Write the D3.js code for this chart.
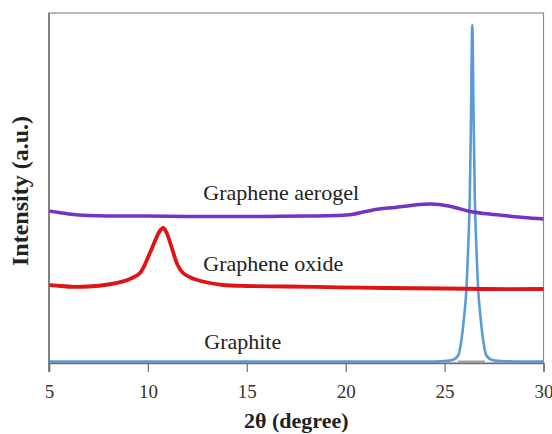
<!DOCTYPE html>
<html>
<head>
<meta charset="utf-8">
<script src="https://cdn.jsdelivr.net/npm/d3@7"></script>
<style>
  body { margin: 0; background: #fff; }
  svg { display: block; }
</style>
</head>
<body>
<div id="chart"></div>
<script>
const FONT = "Liberation Serif";

// 2θ ticks
const xTicks = [5, 10, 15, 20, 25, 30];

// graphene aerogel trace (2θ, intensity a.u.)
const aerogelX = [5, 5.5, 6, 6.5, 7, 8, 10, 12, 14, 16, 18, 19.5, 20.3, 21, 21.7, 22.5, 23.3, 24.3, 25.2, 25.8, 26.3, 27, 28, 29, 30];
const aerogelY = [152, 150.5, 149, 148, 147.5, 147, 147, 146.5, 146.5, 146.5, 147, 147.5, 148.5, 151.5, 154, 155.5, 157.5, 159, 157, 154, 151.5, 149.5, 147.5, 145.5, 144];

// graphene oxide trace
const oxideX = [5, 5.6, 6.2, 7, 8, 8.7, 9.2, 9.6, 10.1, 10.4, 10.6, 10.78, 10.95, 11.27, 11.5, 11.78, 12.1, 12.5, 13, 13.8, 15, 17, 19.7, 22, 25, 27, 30];
const oxideY = [78, 77, 76.2, 76.5, 78.5, 81.3, 85, 90, 110, 124, 132, 135, 130, 111.3, 98, 90, 86, 83, 80.5, 78, 77, 76.5, 75.7, 75, 74.5, 74, 74];

// graphite trace
const graphiteX = [5, 10, 15, 20, 24, 25, 25.4, 25.7, 25.85, 25.98, 26.1, 26.2, 26.27, 26.33, 26.4, 26.47, 26.53, 26.6, 26.7, 26.82, 26.95, 27.1, 27.4, 27.8, 29, 30];
const graphiteY = [1.5, 1.5, 1.5, 1.5, 1.5, 2, 3, 8, 23, 45, 73, 120, 163, 240, 338, 240, 163, 120, 73, 45, 23, 8, 3, 2, 1.5, 1.5];

// grey baseline under graphite peak
const baseX = [25.68, 27.04];
const baseY = [1.5, 1.5];

const labels = ["Graphene aerogel", "Graphene oxide", "Graphite"];

const width = 552, height = 434;
const margin = { top: 13, right: 8.5, bottom: 71, left: 49 };

const svg = d3.select("#chart").append("svg")
  .attr("width", width).attr("height", height);

const x = d3.scaleLinear().domain([5, 30]).range([margin.left, width - margin.right]);
const y = d3.scaleLinear().domain([0, 350]).range([height - margin.bottom, margin.top]);

// frame
svg.append("rect")
  .attr("x", x(5)).attr("y", y(350))
  .attr("width", x(30) - x(5)).attr("height", y(0) - y(350))
  .attr("fill", "none").attr("stroke", "#8c8c8c").attr("stroke-width", 1.2);

const smooth = d3.line()
  .x(d => x(d[0])).y(d => y(d[1]))
  .curve(d3.curveCatmullRom.alpha(0.5));

const peak = d3.line()
  .x(d => x(d[0])).y(d => y(d[1]))
  .curve(d3.curveMonotoneX);

const zip = (a, b) => a.map((v, i) => [v, b[i]]);

svg.append("path").datum(zip(baseX, baseY))
  .attr("d", d3.line().x(d => x(d[0])).y(d => y(d[1])))
  .attr("stroke", "#a0a0a0").attr("stroke-width", 2).attr("fill", "none");

svg.append("path").datum(zip(graphiteX, graphiteY))
  .attr("d", peak).attr("fill", "none")
  .attr("stroke", "#5b9bd5").attr("stroke-width", 2.6);

svg.append("path").datum(zip(oxideX, oxideY))
  .attr("d", smooth).attr("fill", "none")
  .attr("stroke", "#e01414").attr("stroke-width", 3.8);

svg.append("path").datum(zip(aerogelX, aerogelY))
  .attr("d", smooth).attr("fill", "none")
  .attr("stroke", "#7433c4").attr("stroke-width", 3.5);

// axes
const xAxis = svg.append("g")
  .attr("transform", `translate(0,${y(0)})`)
  .call(d3.axisBottom(x).tickValues(xTicks).tickSize(9).tickPadding(13).tickFormat(d3.format("d")));
xAxis.select(".domain").attr("stroke", "#707070").attr("stroke-width", 1.5);
xAxis.selectAll(".tick line").attr("stroke", "#707070").attr("stroke-width", 1.2);
xAxis.selectAll(".tick text")
  .attr("font-family", FONT).attr("font-size", 19).attr("fill", "#333");

svg.append("line")
  .attr("x1", x(5)).attr("x2", x(5)).attr("y1", y(0) + 9).attr("y2", y(350))
  .attr("stroke", "#707070").attr("stroke-width", 1.5);

// series labels
const labelPos = [[12.8, 163], [12.8, 92], [12.85, 14]];
svg.selectAll(".series-label").data(labels).join("text")
  .attr("class", "series-label")
  .attr("x", (d, i) => x(labelPos[i][0]))
  .attr("y", (d, i) => y(labelPos[i][1]))
  .attr("font-family", FONT).attr("font-size", 22).attr("fill", "#222")
  .text(d => d);

// axis titles
svg.append("text")
  .attr("x", (x(5) + x(30)) / 2).attr("y", 428)
  .attr("text-anchor", "middle").attr("font-family", FONT)
  .attr("font-size", 22).attr("font-weight", "bold").attr("fill", "#222")
  .text("2θ (degree)");

svg.append("text")
  .attr("transform", `translate(28,${191}) rotate(-90)`)
  .attr("text-anchor", "middle").attr("font-family", FONT)
  .attr("font-size", 24).attr("font-weight", "bold").attr("fill", "#222")
  .text("Intensity (a.u.)");
</script>
</body>
</html>
